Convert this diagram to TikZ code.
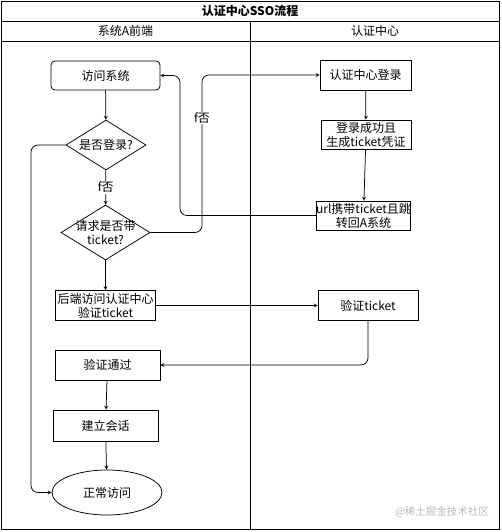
\documentclass[tikz,border=0pt]{standalone}
\usepackage{fontspec}
\setmainfont{Noto Sans CJK SC}
\usetikzlibrary{arrows}
\usetikzlibrary{calc,shapes}

\tikzset{
  boite/.style={draw, rectangle, inner sep=0pt, align=center},
  boiteronde/.style={boite, rounded corners=4pt},
  losange/.style={draw, diamond, inner sep=0pt},
  fleche/.style={->, >=stealth, rounded corners=7pt},
}

\begin{document}
\begin{tikzpicture}[x=1pt, y=-1pt, line width=0.75pt, font=\fontsize{12}{14}\selectfont]
		\useasboundingbox (0,0) rectangle (502,532);
		% Cadre et couloirs
		\draw (1,1) rectangle (499,529);
		\draw (1,21) -- (499,21);
		\draw (1,41) -- (499,41);
		\draw (250.5,21) -- (250.5,529);
		\node[font=\bfseries\fontsize{12}{14}\selectfont] (titre) at (250,11) {认证中心SSO流程};
		\node (couloirA) at (125.5,31) {系统A前端};
		\node (couloirB) at (375,31) {认证中心};
		% Couloir du système A
		\node[boiteronde, minimum width=109, minimum height=29] (acces) at (105.5,75.5) {访问系统};
		\node[losange, minimum width=80, minimum height=50, label={center:是否登录?}] (connecte) at (106,145) {};
		\node[losange, minimum width=89, minimum height=55, label={[align=center]center:请求是否带\\ticket?}] (billet) at (105.5,232.5) {};
		\node[boite, minimum width=100, minimum height=30] (backend) at (105.5,305.5) {后端访问认证中心\\验证ticket};
		\node[boite, minimum width=105, minimum height=30] (valide) at (107.5,365) {验证通过};
		\node[boite, minimum width=105, minimum height=31] (session) at (105.5,425.5) {建立会话};
		\node[draw, ellipse, minimum width=110, minimum height=45, inner sep=0pt] (normal) at (107,492.5) {正常访问};
		% Couloir du centre d'authentification
		\node[boite, minimum width=91, minimum height=30] (login) at (365.5,75) {认证中心登录};
		\node[boite, minimum width=90, minimum height=29] (ticket) at (366,134.5) {登录成功且\\生成ticket凭证};
		\node[boite, minimum width=93, minimum height=29] (retour) at (363.5,215.5) {url携带ticket且跳\\转回A系统};
		\node[boite, minimum width=100, minimum height=30] (verif) at (368,305.5) {验证ticket};
		% Points de passage
		\coordinate (coinG) at (31,145);
		\coordinate (montee) at (202,118);
		\coordinate (retourG) at (180,145);
		% Flèches verticales
		\draw[fleche] (acces) -- (connecte);
		\draw[fleche] (connecte) -- node[fill=white, inner sep=1pt] (refus1) {f否} (billet);
		\draw[fleche] (billet) -- (backend);
		\draw[fleche] (valide) -- (session);
		\draw[fleche] (session) -- (normal);
		\draw[fleche] (login) -- (ticket);
		\draw[fleche] (ticket) -- (retour);
		% Flèches entre couloirs
		\draw[fleche] (connecte.west) -- (coinG) |- (normal.west);
		\draw[fleche] (retour.west) -| (retourG) |- (acces.east);
		\draw[fleche] (billet.east) -| (montee) |- (login.west);
		\node[fill=white, inner sep=1pt] (refus2) at (montee) {f否};
		\draw[fleche] (backend) -- (verif);
		\draw[fleche] (verif.south) |- (valide.east);
		% Filigrane
		\node[text=gray!55, font=\fontsize{10.5}{12}\selectfont] (filigrane) at (442,512) {@稀土掘金技术社区};
\end{tikzpicture}
\end{document}
